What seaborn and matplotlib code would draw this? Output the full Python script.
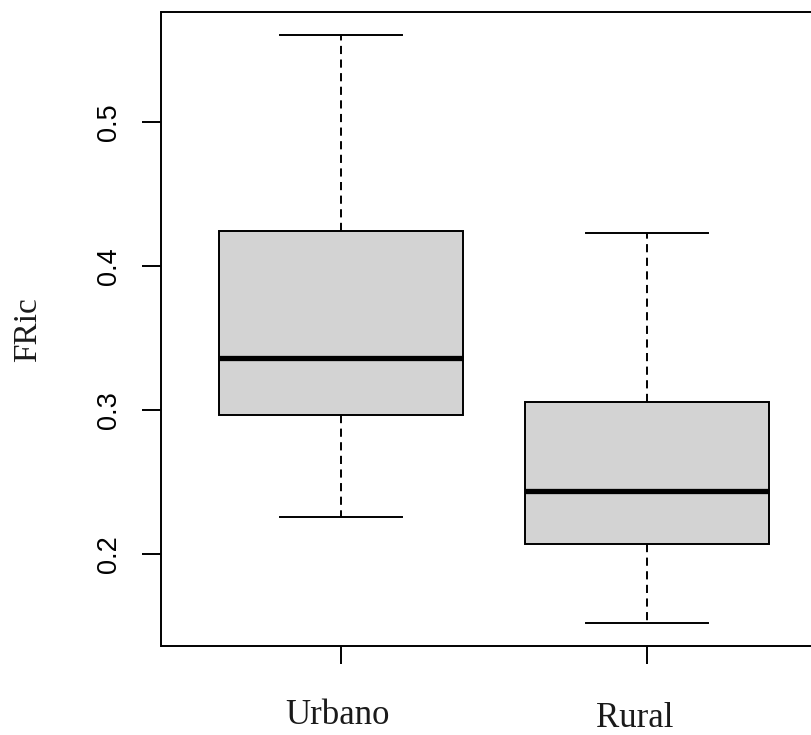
import numpy as np
import pandas as pd
import matplotlib
matplotlib.use("Agg")
import matplotlib.pyplot as plt
import seaborn as sns
from matplotlib.transforms import blended_transform_factory

# ---- data ----
categories = ["Urbano", "Rural"]
# five summary values per group: lower whisker, Q1, median, Q3, upper whisker
urbano_values = [0.2254, 0.2964, 0.3361, 0.4245, 0.5603]
rural_values = [0.1522, 0.2066, 0.2435, 0.3055, 0.4231]
y_ticks = [0.2, 0.3, 0.4, 0.5]
y_tick_labels = ["0.2", "0.3", "0.4", "0.5"]
y_label = "FRic"
label_shift = [-0.013, -0.039]   # small horizontal nudge of the category labels
label_baseline_px = [11, 8]      # baseline height above the bottom edge, pixels

df = pd.DataFrame({
    "zona": [categories[0]] * len(urbano_values) + [categories[1]] * len(rural_values),
    "FRic": urbano_values + rural_values,
})

W, H = 812, 735
fig = plt.figure(figsize=(W / 100, H / 100), dpi=100)
ax = fig.add_axes([161.5 / W, 89 / H, 665 / W, 634 / H])

sns.boxplot(
    data=df, x="zona", y="FRic", order=categories, ax=ax,
    color="#D3D3D3", saturation=1, width=0.8, linewidth=1.4,
    linecolor="black", whis=1.5, showfliers=False,
    whiskerprops=dict(linestyle=(0, (4.2, 2.8)), linewidth=1.4, color="black"),
    capprops=dict(linewidth=1.4, color="black"),
    medianprops=dict(linewidth=3.8, color="black", solid_capstyle="butt"),
    boxprops=dict(linewidth=1.4, edgecolor="black"),
)

vals = np.array(urbano_values + rural_values)
rng = vals.max() - vals.min()
ax.set_ylim(vals.min() - 0.04 * rng, vals.max() + 0.04 * rng)
ax.set_xlim(-0.587, 1.587)

for s in ax.spines.values():
    s.set_visible(True)
    s.set_linewidth(1.4)
    s.set_color("black")

ax.set_yticks(y_ticks)
ax.set_yticklabels(y_tick_labels, family="Liberation Sans", fontsize=19.5,
                   rotation=90, va="center")
ax.tick_params(axis="y", length=13.7, width=1.4, pad=14.5, color="black")
ax.tick_params(axis="x", length=12.6, width=1.4, color="black", labelbottom=False)
ax.set_xlabel("")
ax.set_ylabel("")

tr = blended_transform_factory(ax.transData, fig.transFigure)
for i, cat in enumerate(categories):
    ax.text(i + label_shift[i], label_baseline_px[i] / H, cat, transform=tr,
            ha="center", va="baseline", family="Liberation Serif",
            fontsize=25, color="#1a1a1a")

fig.text(28 / W, 1 - 330 / H, y_label, rotation=90, ha="center", va="center",
         family="Liberation Serif", fontsize=24, color="#1a1a1a")

fig.savefig("out.png", dpi=100)
